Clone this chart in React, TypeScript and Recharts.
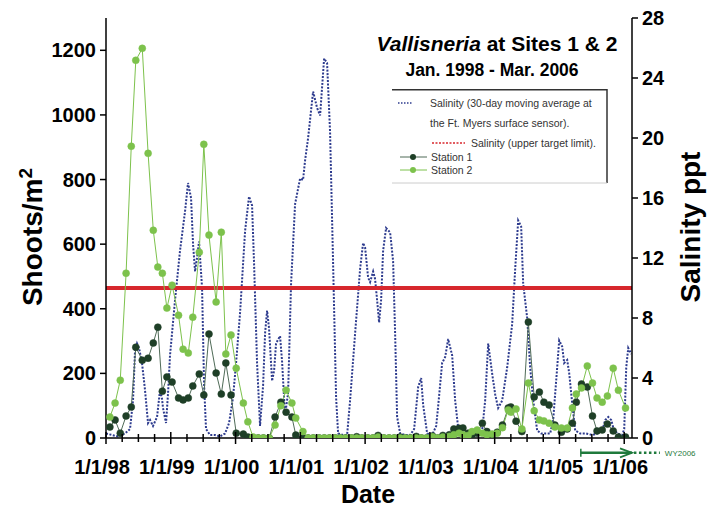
import React from 'react';
import { ComposedChart, Line, XAxis, YAxis, ReferenceLine, Legend } from 'recharts';

const FONT = '"Liberation Sans", Arial, Helvetica, sans-serif';

// Salinity, 30-day moving average at the Ft. Myers surface sensor (ppt); dates are decimal years
const salinityDates = [
  1998.0, 1998.093, 1998.185, 1998.293, 1998.371, 1998.417, 1998.448, 1998.479, 1998.51, 1998.556,
  1998.602, 1998.649, 1998.68, 1998.726, 1998.788, 1998.834, 1998.865, 1998.88, 1998.927, 1998.958,
  1998.988, 1999.066, 1999.143, 1999.22, 1999.266, 1999.313, 1999.344, 1999.375, 1999.405, 1999.436,
  1999.483, 1999.514, 1999.544, 1999.606, 1999.683, 1999.761, 1999.838, 1999.9, 1999.961, 2000.008,
  2000.069, 2000.147, 2000.208, 2000.255, 2000.286, 2000.332, 2000.378, 2000.425, 2000.456, 2000.487,
  2000.517, 2000.564, 2000.595, 2000.625, 2000.687, 2000.718, 2000.764, 2000.811, 2000.857, 2000.919,
  2000.996, 2001.042, 2001.073, 2001.12, 2001.197, 2001.259, 2001.305, 2001.367, 2001.413, 2001.459,
  2001.506, 2001.552, 2001.583, 2001.66, 2001.722, 2001.768, 2001.846, 2001.923, 2001.969, 2002.0,
  2002.046, 2002.077, 2002.124, 2002.154, 2002.185, 2002.216, 2002.247, 2002.278, 2002.324, 2002.386,
  2002.432, 2002.463, 2002.494, 2002.541, 2002.618, 2002.695, 2002.757, 2002.819, 2002.865, 2002.896,
  2002.958, 2003.035, 2003.097, 2003.127, 2003.189, 2003.236, 2003.282, 2003.344, 2003.39, 2003.436,
  2003.498, 2003.622, 2003.745, 2003.807, 2003.853, 2003.9, 2003.961, 2004.008, 2004.054, 2004.116,
  2004.193, 2004.27, 2004.317, 2004.363, 2004.409, 2004.44, 2004.502, 2004.548, 2004.595, 2004.656,
  2004.718, 2004.795, 2004.857, 2004.903, 2004.965, 2004.996, 2005.042, 2005.073, 2005.12, 2005.151,
  2005.197, 2005.243, 2005.32, 2005.413, 2005.506, 2005.583, 2005.66, 2005.707, 2005.753, 2005.799,
  2005.83, 2005.892, 2005.969, 2006.0, 2006.031, 2006.062, 2006.108,
];
const salinityPpt = [
  0.3, 0.2, 0.1, 0.3, 0.6, 2.5, 5.8, 6.3, 6.0, 5.0,
  3.2, 1.0, 1.2, 0.8, 1.4, 3.2, 2.6, 2.0, 1.0, 3.0,
  5.5, 9.2, 12.5, 15.1, 17.0, 16.0, 12.9, 11.1, 12.0, 13.1,
  10.0, 3.6, 0.6, 0.2, 0.2, 0.1, 0.3, 1.0, 2.7, 5.0,
  8.3, 13.8, 16.1, 15.5, 11.6, 5.0, 0.8, 3.5, 7.0, 8.5,
  7.3, 3.8, 4.5, 6.3, 6.8, 5.1, 1.5, 3.0, 10.3, 15.6,
  17.3, 17.2, 18.5, 20.0, 23.1, 22.0, 21.5, 25.3, 25.0, 20.4,
  11.6, 2.7, 0.3, 0.2, 0.2, 2.5, 7.0, 11.3, 13.0, 12.7,
  10.7, 10.4, 11.1, 10.6, 9.2, 7.7, 9.2, 12.5, 14.0, 13.7,
  11.8, 7.0, 1.4, 0.3, 0.2, 0.2, 0.6, 3.4, 4.0, 2.2,
  0.3, 0.2, 0.8, 2.1, 5.0, 5.4, 6.6, 5.5, 2.5, 0.7,
  0.3, 0.4, 0.2, 0.5, 2.5, 6.3, 4.3, 2.9, 2.0, 2.5,
  4.7, 7.6, 11.3, 14.5, 14.1, 10.3, 8.0, 4.7, 2.5, 0.5,
  0.3, 0.3, 0.3, 1.2, 4.7, 6.5, 6.1, 5.0, 5.2, 4.3,
  2.3, 0.5, 0.3, 0.3, 0.2, 0.3, 0.5, 1.2, 1.4, 1.2,
  0.7, 0.3, 0.2, 0.6, 4.7, 6.0, 5.6,
];

// Vallisneria shoot counts (shoots/m2) at each sampling date
const sampleDates = [
  1998.06, 1998.14, 1998.22, 1998.31, 1998.39, 1998.46, 1998.56, 1998.65, 1998.73, 1998.8, 1998.87, 1998.94,
  1999.02, 1999.12, 1999.19, 1999.27, 1999.34, 1999.44, 1999.51, 1999.59, 1999.7, 1999.78, 1999.85, 1999.93,
  2000.01, 2000.12, 2000.19, 2000.27, 2000.35, 2000.43, 2000.52, 2000.61, 2000.7, 2000.78, 2000.87, 2000.93,
  2001.04, 2001.12, 2001.2, 2001.29, 2001.37, 2001.45, 2001.54, 2001.62, 2001.7, 2001.79, 2001.87, 2001.95,
  2002.04, 2002.12, 2002.2, 2002.29, 2002.37, 2002.45, 2002.54, 2002.62, 2002.7, 2002.79, 2002.87, 2002.95,
  2003.04, 2003.12, 2003.2, 2003.3, 2003.37, 2003.45, 2003.51, 2003.59, 2003.65, 2003.73, 2003.81, 2003.88, 2003.96,
  2004.04, 2004.12, 2004.21, 2004.25, 2004.33, 2004.42, 2004.52, 2004.61, 2004.69, 2004.76, 2004.84, 2004.93,
  2005.03, 2005.12, 2005.2, 2005.26, 2005.34, 2005.43, 2005.51, 2005.58, 2005.66, 2005.74, 2005.83, 2005.91, 2006.02,
];
const station1 = [
  34, 56, 15, 68, 96, 281, 241, 247, 294, 343, 145, 189,
  173, 124, 118, 124, 161, 198, 133, 322, 201, 136, 232, 133,
  15, 12, 3, 0, 0, 0, 0, 65, 111, 80, 65, 9,
  0, 0, 0, 0, 0, 0, 0, 0, 0, 0, 4, 0,
  0, 0, 8, 0, 0, 0, 3, 0, 0, 5, 0, 0,
  6, 0, 8, 10, 28, 30, 31, 15, 10, 15, 46, 20, 10,
  18, 40, 93, 96, 52, 20, 359, 127, 142, 111, 102, 40,
  18, 28, 46, 111, 167, 158, 68, 22, 25, 43, 22, 3, 3,
];
const station2 = [
  65, 108, 179, 510, 903, 1169, 1206, 881, 643, 529, 510, 402,
  473, 380, 275, 263, 374, 575, 909, 628, 421, 637, 260, 319,
  216, 108, 50, 3, 0, 0, 0, 40, 100, 148, 108, 62,
  20, 0, 0, 0, 0, 0, 0, 0, 0, 0, 0, 0,
  0, 0, 3, 0, 0, 0, 0, 0, 0, 0, 0, 0,
  4, 0, 3, 5, 10, 15, 10, 8, 20, 25, 15, 10, 12,
  15, 32, 87, 80, 90, 28, 170, 84, 56, 53, 46, 34,
  31, 31, 93, 136, 155, 223, 170, 124, 111, 130, 216, 148, 93,
];

const salinityTarget = 10;
const shootTicks = [0, 200, 400, 600, 800, 1000, 1200];
const salinityTicks = [0, 4, 8, 12, 16, 20, 24, 28];
const years = [1998, 1999, 2000, 2001, 2002, 2003, 2004, 2005, 2006];
const dateDomain = [1998, 2006.12];
const wyStart = 2005.33; // WY2006 begins May 1, 2005
const wyLabel = 'WY2006';

const quarterTicks = years.flatMap((y) => [y, y + 0.25, y + 0.5, y + 0.75]).filter((t) => t <= dateDomain[1]);

const salinityData = salinityDates.map((t, i) => ({ t, ppt: salinityPpt[i] }));
const stationData = sampleDates.map((t, i) => ({ t, s1: station1[i], s2: station2[i] }));

const NAVY = '#2d3b8e';
const RED = '#d7272d';
const DARK_GREEN = '#1e3f27';
const LIGHT_GREEN = '#7dc24c';
const ARROW_GREEN = '#1f7a3c';

const DateTick = (props: any) => {
  const { x, y, payload } = props;
  const v = payload.value;
  const major = Number.isInteger(v);
  const h = major ? 6 : 4;
  return (
    <g>
      <line x1={x} x2={x} y1={y - h} y2={y + h} stroke="#000" strokeWidth={1.5} />
      {major && (
        <text x={x - 4} y={y + 36} textAnchor="middle" fontFamily={FONT} fontWeight="bold" fontSize={20} fill="#000">
          {`1/1/${String(v).slice(2)}`}
        </text>
      )}
    </g>
  );
};

// solid arrow for the water year, drawn below the date axis
const WyArrow = (props: any) => {
  const { x1, x2, y1 } = props;
  return (
    <g>
      <line x1={x1} x2={x1} y1={y1 - 4} y2={y1 + 4} stroke={ARROW_GREEN} strokeWidth={1.5} />
      <line x1={x1} x2={x2} y1={y1} y2={y1} stroke={ARROW_GREEN} strokeWidth={2.5} />
      <polyline points={`${x2 - 12},${y1 - 4.5} ${x2},${y1} ${x2 - 12},${y1 + 4.5}`} fill="none" stroke={ARROW_GREEN} strokeWidth={1.8} />
    </g>
  );
};

const WyTail = (props: any) => {
  const { x1, x2, y1 } = props;
  return (
    <g>
      <line x1={x1} x2={x2} y1={y1} y2={y1} stroke={ARROW_GREEN} strokeWidth={2.5} strokeDasharray="2.5 2.5" />
      <text x={x2 + 5} y={y1 + 3} fontFamily={FONT} fontSize={8} fill={ARROW_GREEN}>{wyLabel}</text>
    </g>
  );
};

const LegendBox = () => (
  <svg width={216} height={95} style={{ display: 'block' }}>
    <rect x={0} y={0} width={216} height={95} fill="#fff" />
    <line x1={0} x2={215} y1={0.75} y2={0.75} stroke="#333" strokeWidth={1.5} />
    <line x1={215} x2={215} y1={0} y2={94} stroke="#333" strokeWidth={1.5} />
    <line x1={0} x2={215} y1={94} y2={94} stroke="#ccc" strokeWidth={1} />
    <g fontFamily={FONT} fontSize={10.5} fill="#333">
      <line x1={6} x2={20} y1={14} y2={14} stroke={NAVY} strokeWidth={1.5} strokeDasharray="1.5 1.5" />
      <text x={38} y={17.5}>Salinity (30-day moving average at</text>
      <text x={38} y={38}>the Ft. Myers surface sensor).</text>
      <line x1={40} x2={73} y1={54} y2={54} stroke={RED} strokeWidth={1.5} strokeDasharray="2 1.5" />
      <text x={79} y={58}>Salinity (upper target limit).</text>
      <line x1={8} x2={35} y1={68} y2={68} stroke="#4f6b57" strokeWidth={1} />
      <circle cx={21} cy={68} r={3} fill={DARK_GREEN} />
      <text x={39} y={72}>Station 1</text>
      <line x1={8} x2={35} y1={81} y2={81} stroke={LIGHT_GREEN} strokeWidth={1} />
      <circle cx={21} cy={81} r={3} fill={LIGHT_GREEN} />
      <text x={39} y={85}>Station 2</text>
    </g>
  </svg>
);

export default function App() {
  return (
    <div style={{ position: 'absolute', left: 0, top: 0, width: 709, height: 509, background: '#fff' }}>
      <ComposedChart width={709} height={509} margin={{ top: 18, right: 0, bottom: 0, left: 0 }}>
        <XAxis
          xAxisId={0}
          type="number"
          dataKey="t"
          domain={dateDomain}
          ticks={quarterTicks}
          interval={0}
          allowDataOverflow
          height={71}
          tickSize={0}
          tickMargin={0}
          tickLine={false}
          tick={<DateTick />}
          axisLine={{ stroke: '#000', strokeWidth: 1.5 }}
          label={{
            content: () => (
              <text x={368} y={503} textAnchor="middle" fontFamily={FONT} fontWeight="bold" fontSize={25} fill="#000">
                Date
              </text>
            ),
          }}
        />
        <YAxis
          yAxisId="left"
          orientation="left"
          width={106}
          domain={[0, 1300]}
          ticks={shootTicks}
          interval={0}
          allowDataOverflow
          tickSize={6}
          tickMargin={4}
          axisLine={{ stroke: '#000', strokeWidth: 1.5 }}
          tickLine={{ stroke: '#000', strokeWidth: 1.5 }}
          tick={{ fill: '#000', fontSize: 20, fontWeight: 'bold', fontFamily: FONT }}
          label={{
            content: () => (
              <text transform="translate(42, 237) rotate(-90)" textAnchor="middle" fontFamily={FONT} fontWeight="bold" fontSize={28} fill="#000">
                Shoots/m<tspan dy={-10} fontSize={19}>2</tspan>
              </text>
            ),
          }}
        />
        <YAxis
          yAxisId="right"
          orientation="right"
          width={77}
          domain={[0, 28]}
          ticks={salinityTicks}
          interval={0}
          allowDataOverflow
          tickSize={6}
          tickMargin={4}
          axisLine={{ stroke: '#000', strokeWidth: 1.5 }}
          tickLine={{ stroke: '#000', strokeWidth: 1.5 }}
          tick={{ fill: '#000', fontSize: 20, fontWeight: 'bold', fontFamily: FONT }}
          label={{
            content: () => (
              <text transform="translate(700, 227) rotate(-90)" textAnchor="middle" fontFamily={FONT} fontWeight="bold" fontSize={28} fill="#000">
                Salinity ppt
              </text>
            ),
          }}
        />
        <Legend
          layout="horizontal"
          verticalAlign="middle"
          align="center"
          wrapperStyle={{ left: 392, top: 89, width: 216, height: 95 }}
          content={() => <LegendBox />}
        />
        <Line
          yAxisId="right"
          data={salinityData}
          dataKey="ppt"
          type="linear"
          stroke={NAVY}
          strokeWidth={2}
          strokeDasharray="2 1.5"
          dot={false}
          isAnimationActive={false}
        />
        <ReferenceLine yAxisId="right" y={salinityTarget} stroke={RED} strokeWidth={4} />
        <Line
          yAxisId="left"
          data={stationData}
          dataKey="s1"
          name="Station 1"
          type="linear"
          stroke="#4f6b57"
          strokeWidth={1}
          dot={{ r: 3.5, fill: DARK_GREEN, stroke: DARK_GREEN, strokeWidth: 0.5 }}
          isAnimationActive={false}
        />
        <Line
          yAxisId="left"
          data={stationData}
          dataKey="s2"
          name="Station 2"
          type="linear"
          stroke={LIGHT_GREEN}
          strokeWidth={1}
          dot={{ r: 3.5, fill: LIGHT_GREEN, stroke: LIGHT_GREEN, strokeWidth: 0.5 }}
          isAnimationActive={false}
        />
        <ReferenceLine
          yAxisId="left"
          segment={[{ x: wyStart, y: -46 }, { x: dateDomain[1], y: -46 }]}
          ifOverflow="visible"
          shape={WyArrow}
        />
        <ReferenceLine
          yAxisId="left"
          segment={[{ x: dateDomain[1] + 0.03, y: -46 }, { x: 2006.55, y: -46 }]}
          ifOverflow="visible"
          shape={WyTail}
        />
      </ComposedChart>
      <svg width={709} height={509} style={{ position: 'absolute', left: 0, top: 0, pointerEvents: 'none' }}>
        <text x={497} y={51} textAnchor="middle" fontFamily={FONT} fontWeight="bold" fontSize={21} fill="#000">
          <tspan fontStyle="italic">Vallisneria</tspan> at Sites 1 &amp; 2
        </text>
        <text x={492} y={76} textAnchor="middle" fontFamily={FONT} fontWeight="bold" fontSize={17.5} fill="#000">
          Jan. 1998 - Mar. 2006
        </text>
      </svg>
    </div>
  );
}
